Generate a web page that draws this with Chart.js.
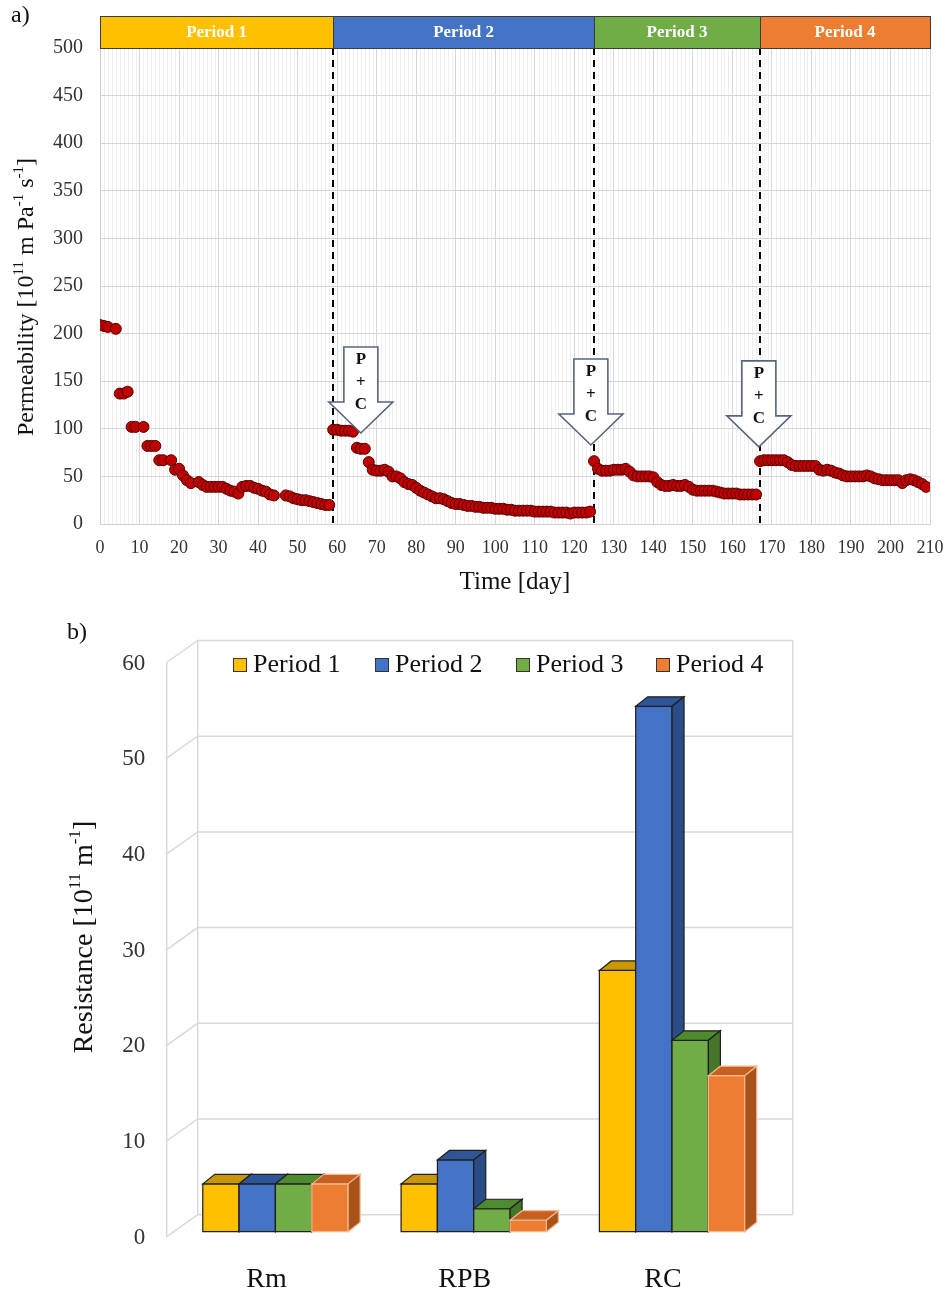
<!DOCTYPE html>
<html>
<head>
<meta charset="utf-8">
<title>Permeability and resistance by period</title>
<script src="https://cdn.jsdelivr.net/npm/chart.js@4.4.1/dist/chart.umd.min.js"></script>
<style>
  html, body { margin: 0; padding: 0; background: #fff; }
  #wrap { position: relative; width: 949px; height: 1291px; overflow: hidden; background: #fff; }
  canvas { position: absolute; left: 0; }
  #permChart { top: 0; }
  #resChart { top: 600px; }
</style>
</head>
<body>
<div id="wrap">
  <canvas id="permChart" width="949" height="600"></canvas>
  <canvas id="resChart" width="949" height="691"></canvas>
</div>
<script>
// ---------------- data: permeability over time ----------------
const period1Days = [0,1,2,4,5,6,7,8,9,11,12,13,14,15,16,18,19,20,21,22,23,25,26,27,28,29,30,31,32,33,34,35,36,37,38,39,40,41,42,43,44,47,48,49,50,51,52,53,54,55,56,57,58];
const period1Perm = [209,208,207,205,137,137,139,102,102,102,82,82,82,67,67,67,57,58,51,46,43,44,41,39,39,39,39,39,37,35,34,32,39,40,40,38,37,35,34,31,30,30,29,27,26,25,25,24,23,22,21,20,20];

const period2Days = [59,60,61,62,63,64,65,66,67,68,69,70,71,72,73,74,75,76,77,78,79,80,81,82,83,84,85,86,87,88,89,90,91,92,93,94,95,96,97,98,99,100,101,102,103,104,105,106,107,108,109,110,111,112,113,114,115,116,117,118,119,120,121,122,123,124];
const period2Perm = [99,99,98,98,98,97,80,79,79,65,57,56,56,57,55,50,50,48,44,42,41,38,35,33,31,29,27,27,26,24,22,21,21,20,19,19,18,18,17,17,17,16,16,16,15,15,14,14,14,14,14,13,13,13,13,13,12,12,12,12,11,12,12,12,12,13];

const period3Days = [125,126,127,128,129,130,131,132,133,134,135,136,137,138,139,140,141,142,143,144,145,146,147,148,149,150,151,152,153,154,155,156,157,158,159,160,161,162,163,164,165,166];
const period3Perm = [66,58,56,56,56,57,57,57,58,55,51,50,50,50,50,49,44,41,40,40,41,40,40,41,39,36,35,35,35,35,35,34,33,32,32,32,32,31,31,31,31,31];

const period4Days = [167,168,169,170,171,172,173,174,175,176,177,178,179,180,181,182,183,184,185,186,187,188,189,190,191,192,193,194,195,196,197,198,199,200,201,202,203,204,205,206,207,208,209];
const period4Perm = [66,67,67,67,67,67,67,65,62,61,61,61,61,61,61,57,56,57,56,54,53,51,50,50,50,50,50,51,50,48,47,46,46,46,46,46,43,46,47,46,44,42,39];

const periodNames = ['Period 1', 'Period 2', 'Period 3', 'Period 4'];
const periodBounds = [0, 59, 125, 167, 210];           // day where each period starts / ends
const treatmentDays = [66, 124.2, 166.7];             // "P + C" events (arrow tips)
const treatmentLevels = [95.6, 83, 81];

// ---------------- data: resistance by component ----------------
const resistanceCategories = ['Rm', 'RPB', 'RC'];
const period1Res = [5.0, 5.0, 27.3];
const period2Res = [5.0, 7.5, 54.9];
const period3Res = [5.0, 2.4, 20.0];
const period4Res = [5.0, 1.2, 16.3];

// ---------------- styling ----------------
const SERIF = '"Liberation Serif", "Times New Roman", serif';
const periodColors = ['#FFC000', '#4472C4', '#70AD47', '#ED7D31'];
const topColors    = ['#C99700', '#2F5597', '#4E8A2E', '#C5601F'];
const sideColors   = ['#A98000', '#2B4C86', '#44772A', '#A9521A'];
const edgeColors   = ['#1f1f1f', '#1f1f1f', '#1f1f1f', '#F4B890'];

Chart.defaults.font.family = SERIF;

// text with superscripts, centred on (cx, cy); optionally rotated to read upwards
function drawRich(ctx, parts, cx, cy, size, rotate) {
  ctx.save();
  ctx.translate(cx, cy);
  if (rotate) ctx.rotate(-Math.PI / 2);
  const supSize = Math.round(size * 0.62);
  const widths = parts.map(([t, sup]) => {
    ctx.font = `${sup ? supSize : size}px ${SERIF}`;
    return ctx.measureText(t).width;
  });
  const total = widths.reduce((s, w) => s + w, 0);
  let x = -total / 2;
  ctx.fillStyle = '#111';
  ctx.textAlign = 'left';
  ctx.textBaseline = 'alphabetic';
  const base = size * 0.34;
  parts.forEach(([t, sup], i) => {
    ctx.font = `${sup ? supSize : size}px ${SERIF}`;
    ctx.fillText(t, x, sup ? base - size * 0.42 : base);
    x += widths[i];
  });
  ctx.restore();
}

// block arrow pointing down, tip at (tx, ty), labelled P + C
function drawTreatmentArrow(ctx, tx, ty) {
  const shaftW = 34, headW = 64, headH = 31, shaftH = 55;
  const top = ty - headH - shaftH;
  const headY = ty - headH;
  ctx.save();
  ctx.beginPath();
  ctx.moveTo(tx - shaftW / 2, top);
  ctx.lineTo(tx + shaftW / 2, top);
  ctx.lineTo(tx + shaftW / 2, headY);
  ctx.lineTo(tx + headW / 2, headY);
  ctx.lineTo(tx, ty);
  ctx.lineTo(tx - headW / 2, headY);
  ctx.lineTo(tx - shaftW / 2, headY);
  ctx.closePath();
  ctx.fillStyle = '#fff';
  ctx.fill();
  ctx.strokeStyle = '#56657c';
  ctx.lineWidth = 1.6;
  ctx.stroke();
  ctx.fillStyle = '#111';
  ctx.font = `bold 17px ${SERIF}`;
  ctx.textAlign = 'center';
  ctx.textBaseline = 'middle';
  ctx.fillText('P', tx, top + 13);
  ctx.fillText('+', tx, top + 36);
  ctx.fillText('C', tx, top + 58);
  ctx.restore();
}

const permDecor = {
  id: 'permDecor',
  beforeDraw(chart) {
    // faint daily grid lines
    const { ctx, chartArea: a, scales: { x } } = chart;
    ctx.save();
    ctx.strokeStyle = '#efefef';
    ctx.lineWidth = 1;
    for (let d = 1; d < 210; d++) {
      if (d % 10 === 0) continue;
      const px = Math.round(x.getPixelForValue(d)) + 0.5;
      ctx.beginPath();
      ctx.moveTo(px, a.top);
      ctx.lineTo(px, a.bottom);
      ctx.stroke();
    }
    ctx.restore();
  },
  beforeDatasetsDraw(chart) {
    // dashed separators between periods
    const { ctx, chartArea: a, scales: { x } } = chart;
    ctx.save();
    ctx.strokeStyle = '#000';
    ctx.lineWidth = 2;
    ctx.setLineDash([7, 5]);
    periodBounds.slice(1, -1).forEach(d => {
      const px = Math.round(x.getPixelForValue(d));
      ctx.beginPath();
      ctx.moveTo(px, a.top);
      ctx.lineTo(px, a.bottom);
      ctx.stroke();
    });
    ctx.restore();
  },
  afterDatasetsDraw(chart) {
    const { ctx, scales: { x, y } } = chart;
    treatmentDays.forEach((d, i) => {
      drawTreatmentArrow(ctx, x.getPixelForValue(d), y.getPixelForValue(treatmentLevels[i]));
    });
  },
  afterDraw(chart) {
    const { ctx, chartArea: a, scales: { x } } = chart;
    // coloured period band above the plot
    const bandH = 32, bandTop = a.top - bandH;
    ctx.save();
    for (let i = 0; i < 4; i++) {
      const x0 = x.getPixelForValue(periodBounds[i]);
      const x1 = x.getPixelForValue(periodBounds[i + 1]);
      ctx.fillStyle = periodColors[i];
      ctx.fillRect(x0, bandTop, x1 - x0, bandH);
      ctx.strokeStyle = '#3c3c3c';
      ctx.lineWidth = 1;
      ctx.strokeRect(Math.round(x0) + 0.5, bandTop + 0.5, Math.round(x1 - x0), bandH);
      ctx.fillStyle = '#fff';
      ctx.font = `bold 17px ${SERIF}`;
      ctx.textAlign = 'center';
      ctx.textBaseline = 'middle';
      ctx.fillText(periodNames[i], (x0 + x1) / 2, bandTop + bandH / 2 + 1);
    }
    // panel tag and axis titles
    ctx.fillStyle = '#111';
    ctx.font = `24px ${SERIF}`;
    ctx.textAlign = 'left';
    ctx.textBaseline = 'middle';
    ctx.fillText('a)', 11, 16);
    ctx.restore();
    drawRich(ctx, [['Time [day]', false]], (a.left + a.right) / 2, 580, 25, false);
    drawRich(ctx, [['Permeability [10', false], ['11', true], [' m Pa', false], ['-1', true], [' s', false], ['-1', true], [']', false]],
      25, 297, 24, true);
  }
};

const pointStyle = {
  showLine: false,
  pointRadius: 5.5,
  pointHoverRadius: 5.5,
  pointBackgroundColor: '#C00000',
  pointBorderColor: '#560000',
  pointBorderWidth: 1
};

new Chart(document.getElementById('permChart'), {
  type: 'scatter',
  data: {
    datasets: [
      { label: periodNames[0], data: period1Days.map((d, i) => ({ x: d, y: period1Perm[i] })), ...pointStyle },
      { label: periodNames[1], data: period2Days.map((d, i) => ({ x: d, y: period2Perm[i] })), ...pointStyle },
      { label: periodNames[2], data: period3Days.map((d, i) => ({ x: d, y: period3Perm[i] })), ...pointStyle },
      { label: periodNames[3], data: period4Days.map((d, i) => ({ x: d, y: period4Perm[i] })), ...pointStyle }
    ]
  },
  options: {
    responsive: false,
    animation: false,
    events: [],
    layout: { padding: { top: 48, right: 19, left: 0, bottom: 0 } },
    plugins: { legend: { display: false }, tooltip: { enabled: false } },
    scales: {
      x: {
        type: 'linear', min: 0, max: 210,
        afterFit(s) { s.height = 76; s.paddingRight = 0; s.paddingLeft = 0; },
        ticks: { stepSize: 10, autoSkip: false, maxRotation: 0, minRotation: 0, padding: 13,
                 color: '#333', font: { family: SERIF, size: 18 } },
        grid: { color: '#d6d6d6', drawTicks: false },
        border: { color: '#d0d0d0' }
      },
      y: {
        min: 0, max: 500,
        afterFit(s) { s.width = 100; s.paddingTop = 0; s.paddingBottom = 0; },
        ticks: { stepSize: 50, padding: 17, color: '#333', font: { family: SERIF, size: 20 } },
        grid: { color: '#d6d6d6', drawTicks: false },
        border: { color: '#d0d0d0' }
      }
    }
  },
  plugins: [permDecor]
});

// ---------------- resistance chart with 3-D styled columns ----------------
const DEPTH_X = 12, DEPTH_Y = -9.5;

const resDecor = {
  id: 'resDecor',
  beforeDatasetsDraw(chart) {
    // side wall and back wall with gridlines
    const { ctx, chartArea: a, scales: { y } } = chart;
    const fx = a.left - 9.6, bx = a.left + 21.4, rx = a.right + 21.5;
    ctx.save();
    ctx.strokeStyle = '#d9d9d9';
    ctx.lineWidth = 1.5;
    const top = y.getPixelForValue(60), bot = y.getPixelForValue(0);
    y.ticks.forEach(t => {
      const py = y.getPixelForValue(t.value);
      ctx.beginPath();
      ctx.moveTo(fx, py + 5);
      ctx.lineTo(bx, py - 17);
      ctx.lineTo(rx, py - 17);
      ctx.stroke();
    });
    [[fx, 5], [bx, -17], [rx, -17]].forEach(([px, off]) => {
      ctx.beginPath();
      ctx.moveTo(px, top + off);
      ctx.lineTo(px, bot + off);
      ctx.stroke();
    });
    ctx.restore();
  },
  afterDatasetsDraw(chart) {
    // paint every column left to right: front, top and side faces
    const { ctx } = chart;
    const nCat = chart.data.labels.length;
    const nSet = chart.data.datasets.length;
    ctx.save();
    ctx.lineJoin = 'miter';
    for (let j = 0; j < nCat; j++) {
      for (let i = 0; i < nSet; i++) {
        const el = chart.getDatasetMeta(i).data[j];
        const { x, y, base, width } = el.getProps(['x', 'y', 'base', 'width'], true);
        const l = x - width / 2, r = x + width / 2;
        ctx.lineWidth = 1.2;
        ctx.strokeStyle = edgeColors[i];
        // front
        ctx.fillStyle = periodColors[i];
        ctx.beginPath();
        ctx.rect(l, y, r - l, base - y);
        ctx.fill();
        ctx.stroke();
        // top
        ctx.fillStyle = topColors[i];
        ctx.beginPath();
        ctx.moveTo(l, y);
        ctx.lineTo(l + DEPTH_X, y + DEPTH_Y);
        ctx.lineTo(r + DEPTH_X, y + DEPTH_Y);
        ctx.lineTo(r, y);
        ctx.closePath();
        ctx.fill();
        ctx.stroke();
        // right side
        ctx.fillStyle = sideColors[i];
        ctx.beginPath();
        ctx.moveTo(r, y);
        ctx.lineTo(r + DEPTH_X, y + DEPTH_Y);
        ctx.lineTo(r + DEPTH_X, base + DEPTH_Y);
        ctx.lineTo(r, base);
        ctx.closePath();
        ctx.fill();
        ctx.stroke();
      }
    }
    ctx.restore();
  },
  afterDraw(chart) {
    const { ctx } = chart;
    ctx.save();
    // legend inside the plot
    const boxX = [233, 375, 516, 656];
    ctx.font = `26px ${SERIF}`;
    ctx.textBaseline = 'middle';
    ctx.textAlign = 'left';
    periodNames.forEach((n, i) => {
      ctx.fillStyle = periodColors[i];
      ctx.fillRect(boxX[i] + 0.5, 58.5, 13, 13);
      ctx.strokeStyle = '#333';
      ctx.lineWidth = 1;
      ctx.strokeRect(boxX[i] + 0.5, 58.5, 13, 13);
      ctx.fillStyle = '#111';
      ctx.fillText(n, boxX[i] + 20, 65);
    });
    ctx.font = `24px ${SERIF}`;
    ctx.fillText('b)', 67, 33);
    ctx.restore();
    drawRich(ctx, [['Resistance [10', false], ['11', true], [' m', false], ['-1', true], [']', false]], 82, 337, 28, true);
  }
};

new Chart(document.getElementById('resChart'), {
  type: 'bar',
  data: {
    labels: resistanceCategories,
    datasets: [period1Res, period2Res, period3Res, period4Res].map((vals, i) => ({
      label: periodNames[i],
      data: vals,
      backgroundColor: periodColors[i],
      borderColor: edgeColors[i],
      borderWidth: 1,
      categoryPercentage: 0.733,
      barPercentage: 1.0
    }))
  },
  options: {
    responsive: false,
    animation: false,
    events: [],
    layout: { padding: { top: 57.5, right: 177.8, left: 0, bottom: 0 } },
    plugins: { legend: { display: false }, tooltip: { enabled: false } },
    scales: {
      x: {
        afterFit(s) { s.height = 59.3; },
        ticks: { padding: 31, labelOffset: -9, color: '#111', font: { family: SERIF, size: 28 } },
        grid: { display: false, drawTicks: false },
        border: { display: false }
      },
      y: {
        min: 0, max: 60,
        afterFit(s) { s.width = 176.3; },
        ticks: { stepSize: 10, padding: 31, labelOffset: 6, color: '#333', font: { family: SERIF, size: 23 } },
        grid: { display: false, drawTicks: false },
        border: { display: false }
      }
    }
  },
  plugins: [resDecor]
});
</script>
</body>
</html>
